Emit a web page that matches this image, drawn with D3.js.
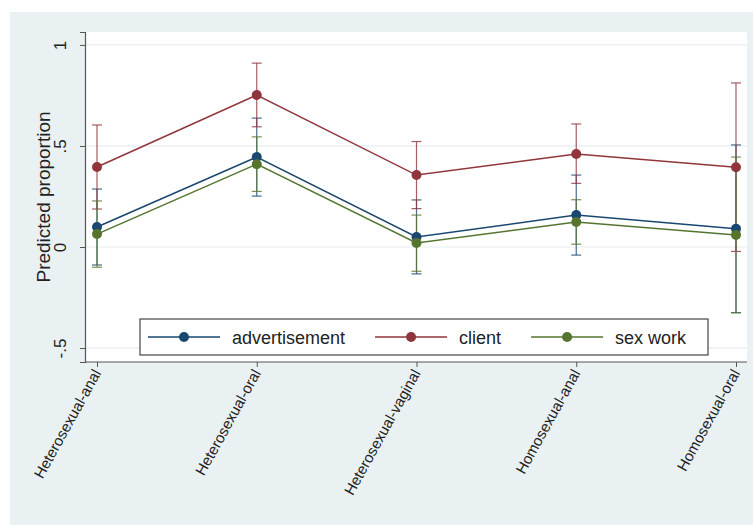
<!DOCTYPE html>
<html>
<head>
<meta charset="utf-8">
<script src="https://cdn.jsdelivr.net/npm/d3@7"></script>
<style>
  body { margin: 0; background: #fff; }
  text { font-family: "Liberation Sans", Arial, sans-serif; fill: #222; }
</style>
</head>
<body>
<div id="chart"></div>
<script>
// categories on the x axis
const categories = ["Heterosexual-anal", "Heterosexual-oral", "Heterosexual-vaginal", "Homosexual-anal", "Homosexual-oral"];

// predicted proportions with confidence limits
const advertisement = [0.099, 0.445, 0.05, 0.158, 0.09];
const advertisementLower = [-0.089, 0.252, -0.133, -0.04, -0.325];
const advertisementUpper = [0.287, 0.638, 0.233, 0.356, 0.505];

const client = [0.396, 0.752, 0.356, 0.46, 0.395];
const clientLower = [0.188, 0.595, 0.19, 0.315, -0.022];
const clientUpper = [0.604, 0.91, 0.522, 0.609, 0.812];

const sexWork = [0.064, 0.41, 0.02, 0.124, 0.06];
const sexWorkLower = [-0.1, 0.275, -0.12, 0.014, -0.325];
const sexWorkUpper = [0.228, 0.545, 0.158, 0.234, 0.445];

const yTicks = [-0.5, 0, 0.5, 1];
const yTickLabels = ["-.5", "0", ".5", "1"];

const series = [
  { name: "advertisement", color: "#1a476f", values: advertisement, lower: advertisementLower, upper: advertisementUpper },
  { name: "client", color: "#90353b", values: client, lower: clientLower, upper: clientUpper },
  { name: "sex work", color: "#55752f", values: sexWork, lower: sexWorkLower, upper: sexWorkUpper }
];

const W = 753, H = 525;
const plot = { left: 85, right: 747, top: 32, bottom: 362 };

const svg = d3.select("#chart")
  .append("svg")
    .attr("width", W)
    .attr("height", H);

// graph region and plot region
svg.append("rect")
    .attr("x", 10).attr("y", 12)
    .attr("width", W - 10).attr("height", H - 12)
    .attr("fill", "#eaf1f3");
svg.append("rect")
    .attr("x", plot.left).attr("y", plot.top)
    .attr("width", plot.right - plot.left).attr("height", plot.bottom - plot.top)
    .attr("fill", "#fff");

const x = d3.scalePoint()
    .domain(categories)
    .range([97, 736]);

const y = d3.scaleLinear()
    .domain([-0.569, 1.064])
    .range([plot.bottom, plot.top]);

// gridlines
svg.append("g")
  .selectAll("line")
  .data(yTicks)
  .join("line")
    .attr("x1", plot.left).attr("x2", plot.right)
    .attr("y1", d => y(d)).attr("y2", d => y(d))
    .attr("stroke", "#e6eef0")
    .attr("stroke-width", 1.2);

// y axis
const yAxis = svg.append("g")
    .attr("transform", `translate(${plot.left},0)`)
    .call(d3.axisLeft(y).tickValues(yTicks).tickSize(5).tickFormat((d, i) => yTickLabels[i]));
yAxis.select(".domain").attr("stroke", "#555").attr("stroke-width", 1.2);
yAxis.selectAll(".tick line").attr("stroke", "#555");
yAxis.selectAll(".tick text")
    .attr("x", 0).attr("dy", 0)
    .attr("transform", "translate(-19,0) rotate(-90)")
    .attr("text-anchor", "middle")
    .style("font-size", "17px")
    .attr("fill", "#333");

svg.append("text")
    .attr("transform", `translate(50,${(plot.top + plot.bottom) / 2}) rotate(-90)`)
    .attr("text-anchor", "middle")
    .style("font-size", "19px")
    .text("Predicted proportion");

// x axis
const xAxis = svg.append("g")
    .attr("transform", `translate(0,${plot.bottom})`)
    .call(d3.axisBottom(x).tickSize(5).tickSizeOuter(0));
xAxis.select(".domain")
    .attr("d", `M${plot.left},0H${plot.right}`)
    .attr("stroke", "#555").attr("stroke-width", 1.2);
xAxis.selectAll(".tick line").attr("stroke", "#555");
xAxis.selectAll(".tick text")
    .attr("y", 0).attr("dy", 0)
    .attr("transform", "translate(4,11) rotate(-61)")
    .attr("text-anchor", "end")
    .style("font-size", "15px")
    .attr("fill", "#333");

// confidence interval caps
const capHalf = 5;
series.forEach(s => {
  const g = svg.append("g")
      .attr("stroke", s.color)
      .attr("stroke-opacity", 0.8)
      .attr("stroke-width", 1.2)
      .attr("fill", "none");
  categories.forEach((c, i) => {
    g.append("line")
        .attr("x1", x(c)).attr("x2", x(c))
        .attr("y1", y(s.lower[i])).attr("y2", y(s.upper[i]));
    g.append("line")
        .attr("x1", x(c) - capHalf).attr("x2", x(c) + capHalf)
        .attr("y1", y(s.lower[i])).attr("y2", y(s.lower[i]));
    g.append("line")
        .attr("x1", x(c) - capHalf).attr("x2", x(c) + capHalf)
        .attr("y1", y(s.upper[i])).attr("y2", y(s.upper[i]));
  });
});

// connected lines and markers
const line = d3.line()
    .x((d, i) => x(categories[i]))
    .y(d => y(d));

series.forEach(s => {
  svg.append("path")
      .datum(s.values)
      .attr("d", line)
      .attr("fill", "none")
      .attr("stroke", s.color)
      .attr("stroke-width", 1.5);
  svg.append("g")
    .selectAll("circle")
    .data(s.values)
    .join("circle")
      .attr("cx", (d, i) => x(categories[i]))
      .attr("cy", d => y(d))
      .attr("r", 5)
      .attr("fill", s.color);
});

// legend
const legend = svg.append("g");
legend.append("rect")
    .attr("x", 140).attr("y", 319)
    .attr("width", 568).attr("height", 36)
    .attr("fill", "#fff")
    .attr("stroke", "#444")
    .attr("stroke-width", 1.2);

let lx = 148;
series.forEach(s => {
  legend.append("line")
      .attr("x1", lx).attr("x2", lx + 72)
      .attr("y1", 337).attr("y2", 337)
      .attr("stroke", s.color).attr("stroke-width", 1.5);
  legend.append("circle")
      .attr("cx", lx + 36).attr("cy", 337).attr("r", 5)
      .attr("fill", s.color);
  const t = legend.append("text")
      .attr("x", lx + 84).attr("y", 344)
      .style("font-size", "18px")
      .attr("fill", "#333")
      .text(s.name);
  lx += 84 + t.node().getComputedTextLength() + 30;
});
</script>
</body>
</html>
